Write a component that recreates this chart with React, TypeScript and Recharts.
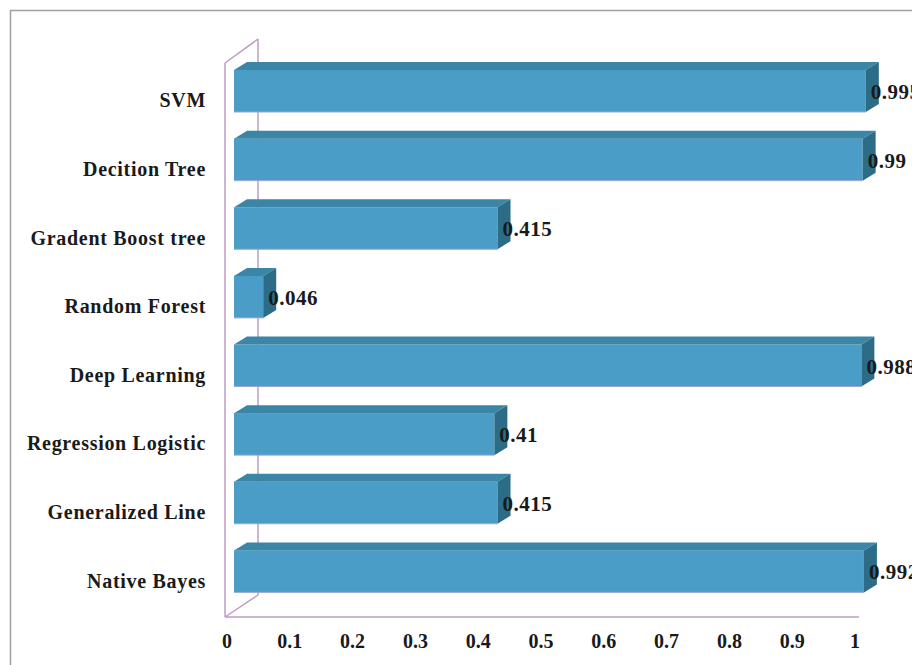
import { ComposedChart, Bar, Line, XAxis, YAxis, LabelList } from 'recharts'

const models = [
  'SVM',
  'Decition Tree',
  'Gradent Boost tree',
  'Random Forest',
  'Deep Learning',
  'Regression Logistic',
  'Generalized Line',
  'Native Bayes',
]
const scores = [0.995, 0.99, 0.415, 0.046, 0.988, 0.41, 0.415, 0.992]
const axisTicks = [0, 0.1, 0.2, 0.3, 0.4, 0.5, 0.6, 0.7, 0.8, 0.9, 1]

const data = models.map((name, i) => ({ name, value: scores[i] }))

const W = 912
const H = 665
const M = { top: 57, right: 43, bottom: 19, left: 17 }
const Y_W = 210
const X_H = 40
const PLOT_L = M.left + Y_W
const PLOT_B = H - M.bottom - X_H

// 3d depth of the boxes
const DX = 13
const DY = 8

const FONT = '"Liberation Serif", "Times New Roman", serif'
const WALL = '#bd9cc4'
const INK = '#1a1a1a'

function Box3D(props: any) {
  const { x, y, width, height } = props
  if (width <= 0) return null
  const r = x + width
  const b = y + height
  return (
    <g>
      <rect x={x} y={y} width={width} height={height} fill="#4a9dc6" />
      <polygon points={`${x},${y} ${x + DX},${y - DY} ${r + DX},${y - DY} ${r},${y}`} fill="#3b86a6" />
      <polygon points={`${r},${y} ${r + DX},${y - DY} ${r + DX},${b - DY} ${r},${b}`} fill="#2d6c86" />
      <line x1={x} y1={b} x2={r} y2={b} stroke="#9aa6d8" strokeWidth={1} />
    </g>
  )
}

function CatTick({ y, payload }: any) {
  return (
    <text x={PLOT_L - 21} y={y + 9} textAnchor="end" dominantBaseline="central"
      fontFamily={FONT} fontWeight="bold" fontSize={20} letterSpacing={0.7} fill={INK}>
      {payload.value}
    </text>
  )
}

function NumTick({ x, payload }: any) {
  return (
    <text x={x} y={PLOT_B + 35} textAnchor="middle" dominantBaseline="central"
      fontFamily={FONT} fontWeight="bold" fontSize={20} fill={INK}>
      {String(payload.value)}
    </text>
  )
}

function ValueLabel({ x, y, width, height, value }: any) {
  return (
    <text x={x + width + 5} y={y + height / 2 + 1} dominantBaseline="central"
      fontFamily={FONT} fontWeight="bold" fontSize={21} letterSpacing={0.5} fill={INK}>
      {value}
    </text>
  )
}

// side wall + floor edge of the 3d frame
function Frame() {
  const fx = PLOT_L - 2
  const bx = fx + 33
  const floorY = PLOT_B + 11
  return (
    <svg width={W} height={H} style={{ position: 'absolute', left: 0, top: 0 }}>
      <rect x={10.5} y={10.5} width={W + 20} height={H + 20} fill="#fff" stroke="#a0a0a0" strokeWidth={1.5} />
      <g stroke={WALL} strokeWidth={1.5} fill="none">
        <line x1={fx} y1={63} x2={fx} y2={floorY} />
        <line x1={bx} y1={39} x2={bx} y2={floorY - 22} />
        <line x1={fx} y1={63} x2={bx} y2={39} />
        <line x1={fx} y1={floorY} x2={bx} y2={floorY - 22} />
        <line x1={fx} y1={floorY} x2={859} y2={floorY} />
      </g>
    </svg>
  )
}

export default function App() {
  return (
    <div style={{ position: 'absolute', left: 0, top: 0, width: W, height: H, overflow: 'hidden', background: '#fff' }}>
      <Frame />
      <div style={{ position: 'absolute', left: 0, top: 0 }}>
        <ComposedChart width={W} height={H} data={data} layout="vertical" margin={M} barSize={42}>
          <XAxis xAxisId="bar" type="number" domain={[0, 1]} hide padding={{ left: 7, right: 0 }} />
          <XAxis xAxisId="tick" type="number" domain={[0, 1]} ticks={axisTicks} height={X_H}
            padding={{ left: 0, right: 14 }} axisLine={false} tickLine={false} tick={<NumTick />} interval={0} />
          <YAxis type="category" dataKey="name" width={Y_W} axisLine={false} tickLine={false} tick={<CatTick />} interval={0} />
          <Bar xAxisId="bar" dataKey="value" shape={<Box3D />} isAnimationActive={false}>
            <LabelList dataKey="value" content={<ValueLabel />} />
          </Bar>
          {/* invisible series so the tick axis has something to scale */}
          <Line xAxisId="tick" dataKey="value" stroke="none" dot={false} activeDot={false} isAnimationActive={false} />
        </ComposedChart>
      </div>
    </div>
  )
}
